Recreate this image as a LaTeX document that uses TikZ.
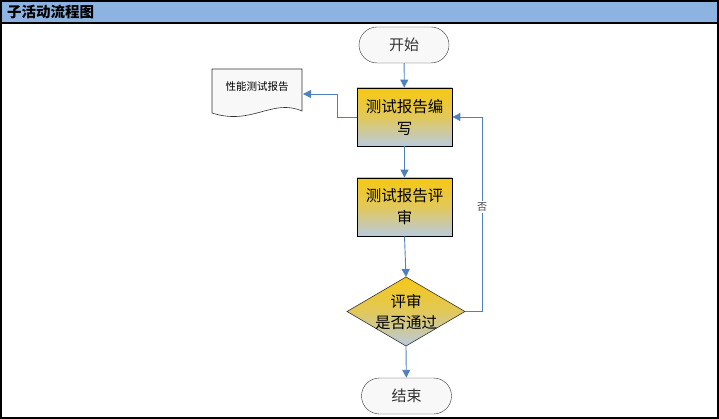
\documentclass[tikz,border=0pt]{standalone}
\usepackage{fontspec}
\setmainfont{Noto Sans CJK SC}
\usetikzlibrary{arrows.meta}
\definecolor{titleblue}{RGB}{141,179,226}
\definecolor{arrowblue}{RGB}{79,129,189}
\definecolor{termfill}{RGB}{248,248,248}
\definecolor{gyel}{RGB}{246,200,20}
\definecolor{gmid}{RGB}{225,200,90}
\definecolor{gblue}{RGB}{185,202,222}
\tikzset{
  x=1pt,y=-1pt,
  term/.style={draw=black!80,fill=termfill,rounded corners=18pt,minimum width=90pt,minimum height=36pt,inner sep=0pt,font=\fontsize{15}{17}\selectfont,text=black!80},
  procbox/.style={draw=black,line width=0.8pt,top color=gyel,bottom color=gblue,middle color=gmid,minimum width=95pt,minimum height=58pt,inner sep=0pt,align=center,font=\fontsize{15.5}{22}\selectfont},
  flow/.style={draw=arrowblue,line width=0.9pt,-{Triangle[length=8pt,width=8pt]}},
}
\begin{document}
\begin{tikzpicture}
\useasboundingbox (0,0) rectangle (719,419);
% frame and title bar
\fill[titleblue] (1,1) rectangle (718,23);
\draw[line width=1.2pt] (1,1) rectangle (718,418);
\draw[line width=1.2pt] (1,23) -- (718,23);
\node[anchor=west,inner sep=0pt,font=\fontsize{14.5}{16}\selectfont\bfseries] (title) at (7,12) {子活动流程图};
% nodes
\node[term] (start) at (404,45) {开始};
\node[procbox] (write) at (404.5,117) {测试报告编\\写};
\node[procbox] (review) at (404.5,207) {测试报告评\\审};
% diamond
\shade[top color=gyel,bottom color=gblue,middle color=gmid,draw=black!80,line width=0.6pt]
  (406,277) -- (465,311.5) -- (406,346) -- (347,311.5) -- cycle;
\coordinate (dtop) at (406,277);
\coordinate (dright) at (465,311.5);
\coordinate (dbot) at (406,346);
\node[align=center,inner sep=0pt,font=\fontsize{15.5}{21}\selectfont] (decide) at (406,312) {评审\\是否通过};
\node[term] (end) at (406.5,396) {结束};
% document
\filldraw[draw=black!80,fill=termfill,line width=0.6pt]
  (212,69) -- (302,69) -- (302,111) .. controls (272,98) and (252,126) .. (212,113) -- cycle;
\node[inner sep=0pt,font=\fontsize{10.5}{12}\selectfont] (doc) at (257,87) {性能测试报告};
\coordinate (docr) at (303,94);
% connectors
\draw[flow] (start) -- (write);
\draw[flow] (write) -- (review);
\draw[flow] (review.south) -- (dtop);
\draw[flow] (dbot) -- (end);
\draw[flow] (write.west) -- ++(-19,0) |- (docr);
\draw[flow] (dright) -- ++(17,0) |- (write.east);
\node[fill=white,inner sep=1.5pt,font=\fontsize{10}{12}\selectfont,text=black!75] (no) at (482,207) {否};
\end{tikzpicture}
\end{document}
